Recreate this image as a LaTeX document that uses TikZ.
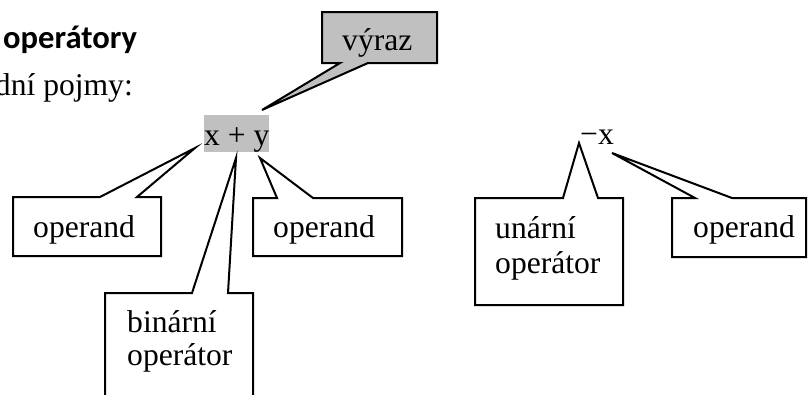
\documentclass[tikz,border=0pt]{standalone}
\usepackage{fontspec}
\setmainfont{Liberation Serif}
\newfontfamily\headfont{Carlito}
\usepackage{tikz}
\usetikzlibrary{calc}
\definecolor{shade}{RGB}{192,192,192}
\tikzset{
	frame/.style={inner sep=0pt, outer sep=0pt},
	bubble/.style={draw=black, line width=2pt, line join=miter, fill=white},
	word/.style={inner sep=0pt, anchor=base west, font=\fontsize{31.6}{35}\selectfont},
}
\newcommand{\upcallout}[4]{%
	\draw[bubble] (#1.north west) -- ($(#1.north west)+(#2,0)$) -- (#4) -- ($(#1.north west)+(#3,0)$) -- (#1.north east) -- (#1.south east) -- (#1.south west) -- cycle;
}

\begin{document}
\begin{tikzpicture}[x=1pt,y=-1pt]
	\useasboundingbox (0,0) rectangle (808,394);
	\clip (0,0) rectangle (808,394);
	\node[word, font=\headfont\bfseries\fontsize{32.6}{36}\selectfont] (head) at (3,48) {operátory};
	\node[word, anchor=base east] (sub) at (133,95) {dní pojmy:};

	\node[word, fill=shade, text height=30pt, text depth=7pt] (sum) at (204,145) {x + y};
	\node[word] (neg) at (580,144) {−x};

	\coordinate (tipV) at (262,110);
	\coordinate (tipL) at (195,148);
	\coordinate (tipB) at (236,158);
	\coordinate (tipR) at (260,158);
	\coordinate (tipU) at (579,143);
	\coordinate (tipN) at (612,153);

	\node[frame, minimum width=115pt, minimum height=51pt, anchor=north west] (vyraz) at (322,12) {};
	\draw[bubble, fill=shade] (vyraz.north west) -- (vyraz.north east) -- (vyraz.south east) -- ($(vyraz.south west)+(46,0)$) -- (tipV) -- ($(vyraz.south west)+(18,0)$) -- (vyraz.south west) -- cycle;
	\node[word] (vyrazt) at (342,50) {výraz};

	\node[frame, minimum width=148pt, minimum height=59pt, anchor=north west] (opL) at (13,197) {};
	\upcallout{opL}{87}{124}{tipL}
	\node[word] (opLt) at (33,237) {operand};

	\node[frame, minimum width=149pt, minimum height=58pt, anchor=north west] (opR) at (253,198) {};
	\upcallout{opR}{24}{60}{tipR}
	\node[word] (opRt) at (273,237) {operand};

	\node[frame, minimum width=148pt, minimum height=110pt, anchor=north west] (bin) at (105,293) {};
	\upcallout{bin}{87}{123}{tipB}
	\node[word] (bint) at (127,332) {binární};
	\node[word] (bint2) at (127,365) {operátor};

	\node[frame, minimum width=148pt, minimum height=107pt, anchor=north west] (un) at (475,198) {};
	\upcallout{un}{88}{123}{tipU}
	\node[word] (unt) at (495,238) {unární};
	\node[word] (unt2) at (495,273) {operátor};

	\node[frame, minimum width=134pt, minimum height=59pt, anchor=north west] (opN) at (672,198) {};
	\upcallout{opN}{23}{60}{tipN}
	\node[word] (opNt) at (693,237) {operand};
\end{tikzpicture}
\end{document}
